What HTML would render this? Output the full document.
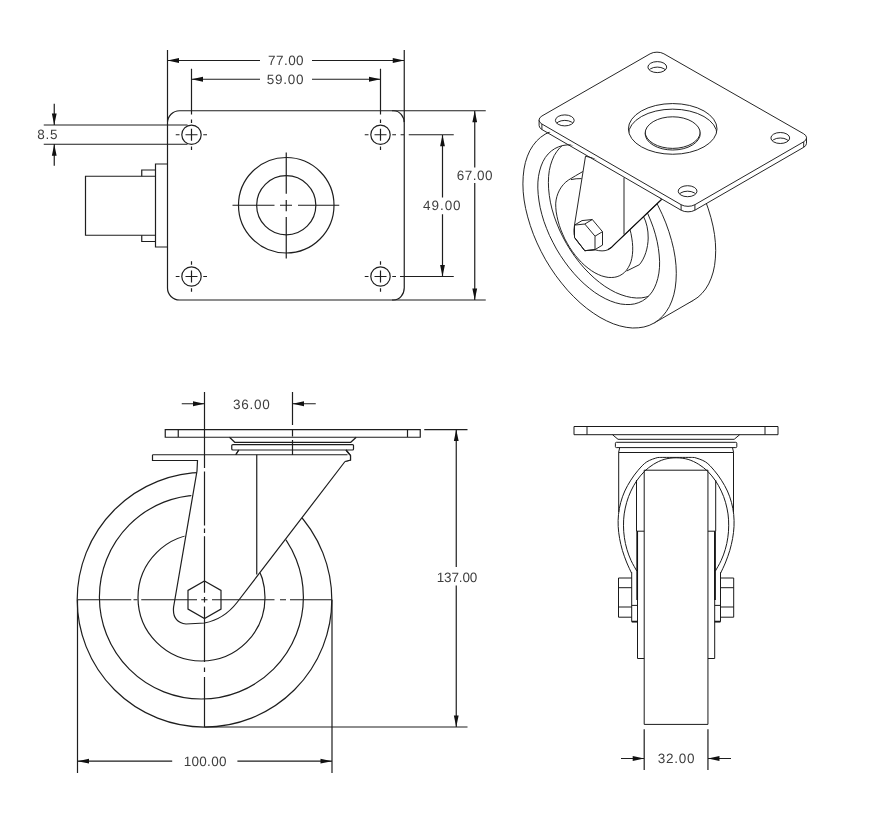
<!DOCTYPE html>
<html lang="en">
<head>
<meta charset="utf-8">
<title>Swivel caster – dimension drawing</title>
<style>
html,body{margin:0;padding:0;background:#fff;}
body{width:890px;height:820px;overflow:hidden;font-family:"Liberation Sans",sans-serif;}
svg{display:block;position:absolute;left:0;top:0;}
.l{fill:none;stroke:#1e1e1e;stroke-width:1.2;}
.t{fill:none;stroke:#1a1a1a;stroke-width:1;}
.a{fill:#111;stroke:none;}
.fw{fill:#fff;stroke:none;}
.i{fill:none;stroke:#1a1a1a;stroke-width:0.95;stroke-linejoin:round;}
.ib{fill:none;stroke:#111;stroke-width:1.2;}
.w{fill:#fff;}
.tb{fill:none;stroke:#111;stroke-width:1.7;}
text{font-family:"Liberation Sans",sans-serif;font-size:13.5px;letter-spacing:0.15px;fill:#3c3c3c;text-anchor:middle;opacity:0.99;}
svg{text-rendering:geometricPrecision;filter:grayscale(1);}
</style>
</head>
<body>
<svg width="890" height="820" viewBox="0 0 890 820">
<rect x="0" y="0" width="890" height="820" fill="#fff"/>
<defs>
  <clipPath id="clipSide"><path d="M0 380 H152 V461 H197 L173 607 Q171.5 622.5 186 624.5 L204.5 623.5 C220 620.5 230 612 237.5 603 L345 462 L500 462 V820 H0 Z"/></clipPath>
</defs>

<!-- ============ TOP VIEW (plate) ============ -->
<g id="topview">
  <!-- plate outline -->
  <path class="l" d="M179.5 110.75 H393.75 A10.5 12.25 0 0 1 404.25 123 V287.75 A10.5 12.25 0 0 1 393.75 300 H179.5 A12 12 0 0 1 167.5 288 V122.75 A12 12 0 0 1 179.5 110.75 Z"/>
  <!-- side block -->
  <path class="l" d="M167.5 164 H155.5 V247 H167.5"/>
  <path class="l" d="M155.5 176.25 H85.5 V235.25 H155.5"/>
  <path class="l" d="M155.5 170 H141.75 V176.25"/>
  <path class="l" d="M155.5 241.5 H141.75 V235.25"/>
  <!-- centre circles -->
  <circle class="l" cx="286.25" cy="205.25" r="47.75"/>
  <circle class="l" cx="286.25" cy="205.25" r="29.6"/>
  <path class="l" d="M232.5 205.25 H274.5 M280 205.25 H292 M298 205.25 H339.25 M286.25 152.5 V193.75 M286.25 200 V211.25 M286.25 217 V258.5"/>
  <!-- holes -->
  <g id="holes">
    <circle class="l" cx="191.5" cy="134.75" r="9.7"/>
    <path class="l" d="M175.75 134.75 h3.75 M185.50 134.75 h12 M203.25 134.75 h3.75 M191.5 119.50 v3.5 M191.5 128.75 v12 M191.5 146.50 v3.5"/>
    <circle class="l" cx="380.5" cy="134.75" r="9.7"/>
    <path class="l" d="M364.75 134.75 h3.75 M374.50 134.75 h12 M392.25 134.75 h3.75 M380.5 119.50 v3.5 M380.5 128.75 v12 M380.5 146.50 v3.5"/>
    <circle class="l" cx="191.5" cy="276.5" r="9.7"/>
    <path class="l" d="M175.75 276.5 h3.75 M185.50 276.5 h12 M203.25 276.5 h3.75 M191.5 261.25 v3.5 M191.5 270.50 v12 M191.5 288.25 v3.5"/>
    <circle class="l" cx="380.5" cy="276.5" r="9.7"/>
    <path class="l" d="M364.75 276.5 h3.75 M374.50 276.5 h12 M392.25 276.5 h3.75 M380.5 261.25 v3.5 M380.5 270.50 v12 M380.5 288.25 v3.5"/>
  </g>
  <path class="l" d="M400.6 134.75 H404 M400.6 276.5 H403"/>
  <!-- dimension 77 -->
  <path class="l" d="M167.5 50 V122 M404.25 50 V122 M167.5 60.5 H260 M312 60.5 H404.25"/>
  <path class="a" d="M167.5 60.5 l11.5 -2.4 v4.8 z M404.25 60.5 l-11.5 -2.4 v4.8 z"/>
  <text x="285.9" y="65.2" textLength="35.75" lengthAdjust="spacing">77.00</text>
  <!-- dimension 59 -->
  <path class="l" d="M191.5 68.75 V114.5 M380.5 68.75 V114.5 M191.5 79.25 H260 M312 79.25 H380.5"/>
  <path class="a" d="M191.5 79.25 l11.5 -2.4 v4.8 z M380.5 79.25 l-11.5 -2.4 v4.8 z"/>
  <text x="285.25" y="84" textLength="37" lengthAdjust="spacing">59.00</text>
  <!-- dimension 67 -->
  <path class="l" d="M392 110.75 H485.75 M392 300 H485.75 M474.75 110.75 V167.5 M474.75 183 V300"/>
  <path class="a" d="M474.75 110.75 l-2.4 11.5 h4.8 z M474.75 300 l-2.4 -11.5 h4.8 z"/>
  <text x="474.75" y="179.8" textLength="36" lengthAdjust="spacing">67.00</text>
  <!-- dimension 49 -->
  <path class="l" d="M408.75 134.75 H453.75 M400 276.5 H453.75 M442.5 134.75 V197.5 M442.5 214.25 V276.5"/>
  <path class="a" d="M442.5 134.75 l-2.4 11.5 h4.8 z M442.5 276.5 l-2.4 -11.5 h4.8 z"/>
  <text x="441.9" y="210" textLength="37.75" lengthAdjust="spacing">49.00</text>
  <!-- dimension 8.5 -->
  <path class="l" d="M43.75 125 H187.5 M43.75 144.25 H187.5 M54.25 103.75 V125 M54.25 144.25 V165.75"/>
  <path class="a" d="M54.25 125 l-2.4 -11.5 h4.8 z M54.25 144.25 l-2.4 11.5 h4.8 z"/>
  <text x="47.5" y="139.3" textLength="20.5" lengthAdjust="spacing">8.5</text>
</g>

<!-- ISO -->
<g id="iso">
  <!-- wheel -->
  <path class="i w" d="M693.5 300.2 L688.6 302.6 L683.3 304.2 L677.7 305.1 L671.8 305.2 L665.6 304.6 L659.2 303.2 L652.7 301.0 L646.1 298.2 L639.4 294.6 L632.7 290.4 L626.1 285.5 L619.5 280.0 L613.1 274.0 L606.9 267.4 L601.0 260.4 L595.3 252.9 L590.0 245.1 L585.0 237.0 L580.5 228.7 L576.4 220.1 L572.8 211.5 L569.7 202.8 L567.1 194.2 L565.0 185.6 L563.5 177.2 L562.6 169.0 L562.3 161.1 L562.6 153.6 L563.4 146.4 L564.8 139.7 L566.8 133.5 L569.3 127.8 L572.4 122.7 L576.0 118.3 L580.0 114.5 L584.5 111.5 L589.4 109.1 L594.7 107.5 L600.3 106.6 L606.2 106.5 L612.4 107.1 L618.8 108.5 L625.3 110.7 L631.9 113.5 L638.6 117.1 L645.3 121.3 L651.9 126.2 L658.5 131.7 L664.9 137.7 L671.1 144.3 L677.0 151.3 L682.7 158.8 L688.0 166.6 L693.0 174.7 L697.5 183.0 L701.6 191.6 L705.2 200.2 L708.3 208.9 L710.9 217.5 L713.0 226.1 L714.5 234.5 L715.4 242.7 L715.7 250.6 L715.4 258.1 L714.6 265.3 L713.2 272.0 L711.2 278.2 L708.7 283.9 L705.6 289.0 L702.0 293.4 L698.0 297.2 L693.5 300.2 Z"/>
  <path class="fw" d="M654.1 323.0 L693.5 300.2 L584.5 111.5 L545.1 134.2 Z"/>
  <path class="i" d="M654.1 323.0 L693.5 300.2"/>
  <path class="i w" d="M654.1 323.0 L649.2 325.4 L643.9 327.0 L638.3 327.8 L632.4 328.0 L626.2 327.3 L619.8 325.9 L613.3 323.8 L606.7 320.9 L600.0 317.4 L593.3 313.1 L586.7 308.3 L580.1 302.8 L573.7 296.7 L567.5 290.2 L561.6 283.1 L555.9 275.7 L550.6 267.9 L545.6 259.8 L541.1 251.4 L537.0 242.9 L533.4 234.3 L530.3 225.6 L527.7 216.9 L525.6 208.4 L524.1 200.0 L523.2 191.8 L522.9 183.9 L523.2 176.3 L524.0 169.1 L525.4 162.4 L527.4 156.2 L529.9 150.5 L533.0 145.5 L536.6 141.0 L540.6 137.3 L545.1 134.2 L550.0 131.8 L555.3 130.2 L560.9 129.4 L566.8 129.2 L573.0 129.9 L579.4 131.3 L585.9 133.4 L592.5 136.3 L599.2 139.8 L605.9 144.1 L612.5 148.9 L619.1 154.4 L625.5 160.5 L631.7 167.0 L637.6 174.1 L643.3 181.5 L648.6 189.3 L653.6 197.4 L658.1 205.8 L662.2 214.3 L665.8 222.9 L668.9 231.6 L671.5 240.3 L673.6 248.8 L675.1 257.2 L676.0 265.4 L676.3 273.3 L676.0 280.9 L675.2 288.1 L673.8 294.8 L671.8 301.0 L669.3 306.7 L666.2 311.7 L662.6 316.2 L658.6 319.9 L654.1 323.0 Z"/>
  <path class="i" d="M642.6 300.8 L638.8 302.6 L634.6 303.9 L630.2 304.5 L625.6 304.5 L620.7 304.0 L615.7 302.8 L610.5 301.0 L605.2 298.6 L599.9 295.7 L594.6 292.3 L589.4 288.3 L584.1 283.8 L579.0 278.9 L574.1 273.6 L569.3 267.9 L564.8 261.9 L560.5 255.6 L556.5 249.1 L552.9 242.3 L549.5 235.5 L546.6 228.5 L544.0 221.6 L541.9 214.6 L540.2 207.7 L539.0 201.0 L538.2 194.4 L537.8 188.1 L537.9 182.1 L538.5 176.3 L539.6 171.0 L541.1 166.0 L543.0 161.5 L545.3 157.5 L548.1 154.0 L551.3 151.0 L554.8 148.6 L558.6 146.8 L562.8 145.5 L567.2 144.9 L571.8 144.9 L576.7 145.4 L581.7 146.6 L586.9 148.4 L592.2 150.8 L597.5 153.7 L602.8 157.1 L608.0 161.1 L613.3 165.6 L618.4 170.5 L623.3 175.8 L628.1 181.5 L632.6 187.5 L636.9 193.8 L640.9 200.3 L644.5 207.1 L647.9 213.9 L650.8 220.9 L653.4 227.8 L655.5 234.8 L657.2 241.7 L658.4 248.4 L659.2 255.0 L659.6 261.3 L659.5 267.3 L658.9 273.1 L657.8 278.4 L656.3 283.4 L654.4 287.9 L652.1 291.9 L649.3 295.4 L646.1 298.4 L642.6 300.8 Z"/>
  <clipPath id="rimA"><path d="M642.6 300.8 L638.8 302.6 L634.6 303.9 L630.2 304.5 L625.6 304.5 L620.7 304.0 L615.7 302.8 L610.5 301.0 L605.2 298.6 L599.9 295.7 L594.6 292.3 L589.4 288.3 L584.1 283.8 L579.0 278.9 L574.1 273.6 L569.3 267.9 L564.8 261.9 L560.5 255.6 L556.5 249.1 L552.9 242.3 L549.5 235.5 L546.6 228.5 L544.0 221.6 L541.9 214.6 L540.2 207.7 L539.0 201.0 L538.2 194.4 L537.8 188.1 L537.9 182.1 L538.5 176.3 L539.6 171.0 L541.1 166.0 L543.0 161.5 L545.3 157.5 L548.1 154.0 L551.3 151.0 L554.8 148.6 L558.6 146.8 L562.8 145.5 L567.2 144.9 L571.8 144.9 L576.7 145.4 L581.7 146.6 L586.9 148.4 L592.2 150.8 L597.5 153.7 L602.8 157.1 L608.0 161.1 L613.3 165.6 L618.4 170.5 L623.3 175.8 L628.1 181.5 L632.6 187.5 L636.9 193.8 L640.9 200.3 L644.5 207.1 L647.9 213.9 L650.8 220.9 L653.4 227.8 L655.5 234.8 L657.2 241.7 L658.4 248.4 L659.2 255.0 L659.6 261.3 L659.5 267.3 L658.9 273.1 L657.8 278.4 L656.3 283.4 L654.4 287.9 L652.1 291.9 L649.3 295.4 L646.1 298.4 L642.6 300.8 Z"/></clipPath>
  <path clip-path="url(#rimA)" class="i" d="M654.1 293.9 L650.1 295.8 L645.8 297.1 L641.3 297.9 L636.5 298.0 L631.5 297.5 L626.3 296.4 L621.0 294.7 L615.6 292.5 L610.2 289.6 L604.8 286.3 L599.5 282.4 L594.2 278.0 L589.0 273.1 L584.0 267.9 L579.2 262.2 L574.7 256.3 L570.4 250.0 L566.4 243.5 L562.8 236.8 L559.5 230.0 L556.6 223.0 L554.1 216.1 L552.0 209.1 L550.4 202.2 L549.3 195.4 L548.6 188.8 L548.4 182.5 L548.6 176.4 L549.3 170.6 L550.5 165.2 L552.2 160.2 L554.2 155.6 L556.8 151.5 L559.7 147.9 L563.0 144.8 L566.6 142.3 L570.7 140.4 L575.0 139.1 L579.5 138.3 L584.3 138.2 L589.3 138.7 L594.5 139.8 L599.8 141.5 L605.2 143.7 L610.6 146.6 L616.0 149.9 L621.3 153.8 L626.6 158.2 L631.8 163.1 L636.8 168.3 L641.6 174.0 L646.1 179.9 L650.4 186.2 L654.4 192.7 L658.0 199.4 L661.3 206.2 L664.2 213.2 L666.7 220.1 L668.8 227.1 L670.4 234.0 L671.5 240.8 L672.2 247.4 L672.4 253.7 L672.2 259.8 L671.5 265.6 L670.3 271.0 L668.6 276.0 L666.6 280.6 L664.0 284.7 L661.1 288.3 L657.8 291.4 L654.1 293.9 Z"/>
  <path class="i" d="M639.4 264.7 C645 258 648 248 648.2 238 C648.3 230 646.5 222 643.4 216.3 L641 211"/>
  <path class="i" d="M620.1 206.7 L622.5 211.0 L624.7 215.4 L626.7 219.9 L628.4 224.5 L629.8 229.0 L631.0 233.6 L631.8 238.1 L632.4 242.4 L632.7 246.7 L632.7 250.8 L632.4 254.7 L631.8 258.3 L630.9 261.8 L629.7 264.9 L628.2 267.7 L626.5 270.2 L624.5 272.4 L622.2 274.2 L619.8 275.6 L617.1 276.7 L614.3 277.3 L611.3 277.5 L608.2 277.4 L605.0 276.8 L601.7 275.9 L598.3 274.5 L594.9 272.8 L591.5 270.7 L588.1 268.2 L584.8 265.5 L581.5 262.4 L578.4 259.0 L575.3 255.4 L572.4 251.5 L569.7 247.5 L567.2 243.2 L564.8 238.9 L562.8 234.4 L560.9 229.9 L559.3 225.3 L558.0 220.8 L557.0 216.3 L556.2 211.9 L555.8 207.5 L555.7 203.4"/>
  <path class="i" d="M555.7 203.5 C556.3 194 561 185 568.5 180 C573 177 578 174.5 582.9 171.5 M571 179.6 Q576 178.4 581.6 178.6"/>
  <path class="i" d="M626.7 271 L639.4 264.7"/>
  <!-- fork -->
  <path class="i w" d="M585.5 156.2 L574.5 225.1 Q572.5 236 577 241 L584.8 250.7 L595 249.8 Q602.7 252 607.8 249.8 Q611.5 248 615.5 243.4 L661.5 199.5 L640 170 Z"/>
  <path class="i" d="M624 177.6 V234.5"/>
  <path class="ib" d="M607.8 249.8 Q611.5 248 615.5 243.4 L661.5 199.5"/>
  <!-- hex bolt -->
  <path class="i w" d="M574.5 225.1 L582.0 220.6 L592.3 219.5 L602.5 231.7 L602.5 245.1 L595.0 249.6 L584.8 250.7 L574.5 237.4 Z"/>
  <path class="i" d="M574.5 225.1 L584.8 224.0 L595.0 236.2 L595.0 249.6 L584.8 250.7 L574.5 237.4 Z"/>
  <path class="i" d="M584.8 224.0 L592.3 219.5 M595.0 236.2 L602.5 231.7"/>
  <!-- plate -->
  <path class="fw" d="M539.1 120.0 L650.1 53.8 L663.9 53.8 L806.5 137.8 L806.5 143.3 L694.9 210.2 L681.1 210.2 L539.1 125.5 Z"/>
  <path class="i" d="M539.1 120.0 V125.5 A9.80 5.66 0 0 0 541.9 129.5 L681.1 210.2 A9.80 5.66 0 0 0 694.9 210.2 L803.7 147.3 A9.80 5.66 0 0 0 806.5 143.3 V137.8"/>
  <path class="i w" d="M541.9 116.0 L650.1 53.8 A9.80 5.66 0 0 1 663.9 53.8 L803.7 133.8 A9.80 5.66 0 0 1 803.7 141.8 L694.9 204.7 A9.80 5.66 0 0 1 681.1 204.7 L541.9 124.0 A9.80 5.66 0 0 1 541.9 116.0 Z"/>
  <path class="i" d="M541.9 124.0 v5.5 M681.1 204.7 v5.5 M694.9 204.7 v5.5 M803.7 141.8 v5.5"/>
  <clipPath id="h0"><ellipse cx="564.8" cy="120.4" rx="9.4" ry="5.5"/></clipPath>
  <ellipse class="i" cx="564.8" cy="120.4" rx="9.4" ry="5.5"/>
  <ellipse class="i" clip-path="url(#h0)" cx="564.8" cy="125.9" rx="9.4" ry="5.5"/>
  <clipPath id="h1"><ellipse cx="657.3" cy="67.1" rx="9.4" ry="5.5"/></clipPath>
  <ellipse class="i" cx="657.3" cy="67.1" rx="9.4" ry="5.5"/>
  <ellipse class="i" clip-path="url(#h1)" cx="657.3" cy="72.6" rx="9.4" ry="5.5"/>
  <clipPath id="h2"><ellipse cx="780.3" cy="138.0" rx="9.4" ry="5.5"/></clipPath>
  <ellipse class="i" cx="780.3" cy="138.0" rx="9.4" ry="5.5"/>
  <ellipse class="i" clip-path="url(#h2)" cx="780.3" cy="143.5" rx="9.4" ry="5.5"/>
  <clipPath id="h3"><ellipse cx="687.6" cy="191.2" rx="9.4" ry="5.5"/></clipPath>
  <ellipse class="i" cx="687.6" cy="191.2" rx="9.4" ry="5.5"/>
  <ellipse class="i" clip-path="url(#h3)" cx="687.6" cy="196.7" rx="9.4" ry="5.5"/>
  <clipPath id="bo"><ellipse cx="672.7" cy="128.9" rx="44.3" ry="25.35"/></clipPath>
  <ellipse class="i" cx="672.7" cy="128.9" rx="44.3" ry="25.35"/>
  <ellipse class="i" clip-path="url(#bo)" cx="672.7" cy="134.5" rx="44.3" ry="25.35"/>
  <clipPath id="bi"><ellipse cx="672.7" cy="133.4" rx="27.6" ry="16.6"/></clipPath>
  <ellipse class="i" cx="672.7" cy="133.4" rx="27.6" ry="16.6"/>
  <ellipse class="i" clip-path="url(#bi)" cx="672.7" cy="131.8" rx="27.6" ry="16.6"/>
</g>
<!-- SIDE -->
<g id="side">
  <!-- wheel circles -->
  <circle class="l" cx="204.5" cy="599.75" r="127.3"/>
  <g clip-path="url(#clipSide)">
    <circle class="l" cx="201.4" cy="597" r="102"/>
    <circle class="l" cx="201.5" cy="597.5" r="63.5"/>
  </g>
  <!-- mounting plate -->
  <path class="l" d="M165.25 429.6 H420.25 V437.25 H165.25 Z M178.25 429.6 V437.25 M407.5 429.6 V437.25"/>
  <!-- swivel bearing -->
  <path class="l" d="M229.5 437.25 L234.75 442.3 H350.75 L356.25 437.25"/>
  <path class="l" d="M233 444.6 H352.5 Q353.5 444.6 353.5 445.6 V449 Q353.5 450 352.5 450 H233 Q231.75 450 231.75 449 V445.6 Q231.75 444.6 233 444.6 Z"/>
  <path class="l" d="M238.75 450 L235.75 454.75 M346 450 L350.5 455.5 V460 L345 461.5"/>
  <!-- fork -->
  <path class="fw" d="M152.5 454.75 H347.5 L350.5 455.5 V460 L345 461.5 L237 602.5 C230 611.5 220 620 204.5 623 L186 624 Q172 622 173.6 607 L197 471 L197.5 460.5 H152.5 Z"/>
  <path class="l" d="M152.5 454.75 H347.5 M152.5 454.75 V460.5 H197.5 L197 471 L173.6 607 Q172 622 186 624 L204.5 623 C220 620 230 611.5 237 602.5 L345 461.5"/>
  <path class="l" d="M256.75 454.75 V574.5 M346 450 L350.5 455.5 V460 L345 461.5 M238.75 450 L235.75 454.75"/>
  <!-- hex bolt -->
  <path class="l" d="M204.5 581 L221 590.4 V609.1 L204.5 618.6 L188 609.1 V590.4 Z"/>
  <!-- centre lines -->
  <path class="l" d="M77.5 599.75 H131.25 M133.5 599.75 H137.5 M141.25 599.75 H197 M201.25 599.75 H207.5 M212 599.75 H274.5 M280 599.75 H286 M290 599.75 H332"/>
  <path class="l" d="M204.5 392 V468 M204.5 471.5 V525.5 M204.5 528.5 V533 M204.5 536.25 V592.8 M204.5 597 V602.6 M204.5 606.4 V662 M204.5 667.5 V672 M204.5 677 V727"/>
  <path class="l" d="M292.5 392 V425 M292.5 430 V436.5 M292.5 440 V455"/>
  <!-- dimension 36 -->
  <path class="l" d="M181.75 403.75 H204.5 M292.5 403.75 H315.75"/>
  <path class="a" d="M204.5 403.75 l-11.5 -2.4 v4.8 z M292.5 403.75 l11.5 -2.4 v4.8 z"/>
  <text x="251.5" y="409" textLength="37" lengthAdjust="spacing">36.00</text>
  <!-- dimension 100 -->
  <path class="l" d="M77.5 599.75 V773 M332 599.75 V773 M77.5 761.2 H172.2 M237.4 761.2 H332"/>
  <path class="a" d="M77.5 761.2 l11.5 -2.4 v4.8 z M332 761.2 l-11.5 -2.4 v4.8 z"/>
  <text x="205.15" y="766" textLength="43" lengthAdjust="spacing">100.00</text>
  <!-- dimension 137 -->
  <path class="l" d="M424.25 429.6 H467.5 M204.5 727 H467.5 M456.25 429.6 V567 M456.25 585.5 V727"/>
  <path class="a" d="M456.25 429.6 l-2.4 11.5 h4.8 z M456.25 727 l-2.4 -11.5 h4.8 z"/>
  <text x="457.1" y="582" textLength="40.75" lengthAdjust="spacing">137.00</text>
</g>
<!-- FRONT -->
<g id="front">
  <!-- plate -->
  <path class="t" d="M574 426.5 H778 V434.7 H574 Z M587 426.5 V434.7 M765 426.5 V434.7"/>
  <!-- bearing -->
  <path class="t" d="M612.5 434.7 L618 439.3 H734.2 L739.7 434.7"/>
  <path class="t" d="M616.4 442.3 H735.8 Q736.8 442.3 736.8 443.3 V446.6 Q736.8 447.6 735.8 447.6 H616.4 Q615.4 447.6 615.4 446.6 V443.3 Q615.4 442.3 616.4 442.3 Z"/>
  <path class="t" d="M619.7 447.6 L618.6 452.5 H733.6 L732.5 447.6"/>
  <!-- fork outer -->
  <path class="t" d="M618.7 452.5 V512 M733.5 452.5 V512"/>
  <!-- arch -->
  <path class="t" d="M631.5 573.0 C630.7 571.2 628.0 565.8 626.5 562.0 C625.0 558.2 623.6 554.3 622.4 550.4 C621.3 546.5 620.3 542.5 619.6 538.5 C618.9 534.5 618.4 530.5 618.2 526.5 C618.0 522.5 618.1 518.4 618.5 514.4 C618.9 510.5 619.6 506.5 620.7 502.6 C621.7 498.7 623.1 494.8 624.8 491.0 C626.5 487.3 628.6 483.6 630.8 480.2 C633.0 476.7 635.5 473.3 638.1 470.3 C640.8 467.2 643.4 464.0 646.7 461.9 C649.9 459.8 654.9 458.3 657.8 457.5 C660.7 457.4 661.0 457.4 664.0 457.4 C667.0 457.4 672.1 457.4 676.1 457.4 C680.1 457.4 685.2 457.4 688.2 457.4 C691.2 457.4 691.5 457.4 694.4 457.5 C697.3 458.3 702.3 459.8 705.5 461.9 C708.8 464.0 711.4 467.2 714.1 470.3 C716.7 473.3 719.2 476.7 721.4 480.2 C723.6 483.6 725.7 487.3 727.4 491.0 C729.1 494.8 730.5 498.7 731.5 502.6 C732.6 506.5 733.3 510.5 733.7 514.4 C734.1 518.4 734.2 522.5 734.0 526.5 C733.8 530.5 733.3 534.5 732.6 538.5 C731.9 542.5 730.9 546.5 729.8 550.4 C728.6 554.3 727.2 558.2 725.7 562.0 C724.2 565.8 721.5 571.2 720.7 573.0"/>
  <path class="t" d="M636.7 570.9 C635.8 569.1 632.6 564.0 631.0 560.4 C629.4 556.8 628.0 553.1 626.9 549.3 C625.8 545.5 624.9 541.6 624.4 537.7 C623.8 533.7 623.5 529.7 623.5 525.8 C623.4 521.8 623.7 517.8 624.2 513.9 C624.8 510.0 625.6 506.1 626.7 502.3 C627.8 498.4 629.2 494.7 630.9 491.1 C632.6 487.5 634.5 483.9 636.8 480.6 C639.0 477.4 641.6 474.3 644.3 471.5 C647.1 468.8 650.2 466.3 653.5 464.3 C656.8 462.3 660.4 460.5 664.1 459.4 C667.9 458.3 672.1 457.8 676.1 457.8 C680.1 457.8 684.3 458.3 688.1 459.4 C691.8 460.5 695.4 462.3 698.7 464.3 C702.0 466.3 705.1 468.8 707.9 471.5 C710.6 474.3 713.2 477.4 715.4 480.6 C717.7 483.9 719.6 487.5 721.3 491.1 C723.0 494.7 724.4 498.4 725.5 502.3 C726.6 506.1 727.4 510.0 728.0 513.9 C728.5 517.8 728.8 521.8 728.7 525.8 C728.7 529.7 728.4 533.7 727.8 537.7 C727.3 541.6 726.4 545.5 725.3 549.3 C724.2 553.1 722.8 556.8 721.2 560.4 C719.6 564.0 716.4 569.1 715.5 570.9"/>
  <!-- wheel -->
  <path class="t" d="M644.2 470.2 H707.95 M644.2 470.2 V724.4 H707.95 V470.2"/>
  <!-- legs -->
  <path class="t" d="M636.5 480 V531.2 H644.2 M715.7 480 V531.2 H707.95"/>
  <path class="t" d="M637.5 531.2 V658.5 H644.2 M714.7 531.2 V658.5 H707.95"/>
  <path class="tb" d="M637.2 531.2 V600 M715 531.2 V600 M631.8 621.6 H637.5 M720.4 621.6 H714.7"/>
  <!-- bolts -->
  <path class="t" d="M631.7 572.3 V621.6 H637.5 M720.5 572.3 V621.6 H714.7 M631.8 605.4 H637.5 M720.4 605.4 H714.7"/>
  <path class="t" d="M618.5 578 H631.8 M618.5 578 V617.2 H631.8 M618.5 587.7 H631.8 M618.5 607 H631.8"/>
  <path class="t" d="M733.7 578 H720.4 M733.7 578 V617.2 H720.4 M733.7 587.7 H720.4 M733.7 607 H720.4"/>
  <!-- dimension 32 -->
  <path class="l" d="M644.2 729.3 V770 M707.95 729.3 V770 M621 758.5 H644.2 M707.95 758.5 H731"/>
  <path class="a" d="M644.2 758.5 l-11.5 -2.4 v4.8 z M707.95 758.5 l11.5 -2.4 v4.8 z"/>
  <text x="676.1" y="763.3" textLength="36.9" lengthAdjust="spacing">32.00</text>
</g>
</svg>
</body>
</html>
